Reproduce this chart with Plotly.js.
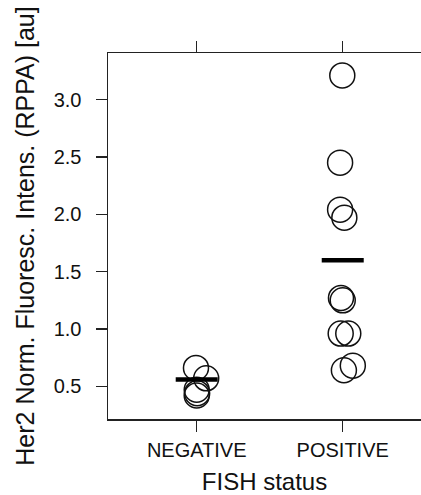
<!DOCTYPE html>
<html>
<head>
<meta charset="utf-8">
<script src="https://cdn.plot.ly/plotly-3.0.1.min.js"></script>
<style>html,body{margin:0;padding:0;background:#fff;}#chart{width:421px;height:495px;}</style>
</head>
<body>
<div id="chart"></div>
<script>
// Category labels
var categories = ['NEGATIVE', 'POSITIVE'];
// Individual sample values
var negativeValues = [0.66, 0.57, 0.47, 0.44, 0.42];
var negativeJitter = [-0.005, 0.065, 0.0, 0.003, 0.0];
var positiveValues = [3.21, 2.45, 2.04, 1.97, 1.27, 1.25, 0.96, 0.96, 0.64, 0.68];
var positiveJitter = [-0.003, -0.018, -0.018, 0.011, -0.012, 0.0, -0.014, 0.038, 0.008, 0.069];
// Group summary bars
var groupCentre = [0.56, 1.60];
// Axis ticks
var yTicks = [0.5, 1.0, 1.5, 2.0, 2.5, 3.0];

var catPos = categories.map(function (c, i) { return i; });

var negX = negativeJitter.map(function (j) { return catPos[0] + j; });
var posX = positiveJitter.map(function (j) { return catPos[1] + j; });

var pointMarker = {
  symbol: 'circle-open',
  size: 25,
  color: '#111',
  line: { width: 1.5, color: '#111' }
};

var traces = [
  { type: 'scatter', mode: 'markers', x: negX, y: negativeValues, marker: pointMarker, hoverinfo: 'y', showlegend: false },
  { type: 'scatter', mode: 'markers', x: posX, y: positiveValues, marker: pointMarker, hoverinfo: 'y', showlegend: false },
  { type: 'scatter', mode: 'markers', x: catPos, y: groupCentre,
    marker: { symbol: 'line-ew-open', size: 30, color: '#000', line: { width: 4.5, color: '#000' } },
    hoverinfo: 'y', showlegend: false }
];

var font = 'Liberation Sans, Arial, Helvetica, sans-serif';

var layout = {
  width: 421,
  height: 495,
  margin: { l: 108, r: 0, t: 53, b: 76 },
  paper_bgcolor: '#fff',
  plot_bgcolor: '#fff',
  font: { family: font, color: '#111' },
  xaxis: {
    range: [-0.6075, 1.536],
    tickvals: catPos,
    ticktext: categories,
    ticks: 'outside',
    ticklen: 11,
    tickwidth: 1.5,
    tickcolor: '#222',
    showline: true,
    linewidth: 1.5,
    linecolor: '#222',
    mirror: 'ticks',
    showgrid: false,
    zeroline: false,
    ticklabelstandoff: 1,
    tickfont: { size: 20, family: font, color: '#111' },
    title: { text: 'FISH status', font: { size: 24, family: font, color: '#111' }, standoff: 16 }
  },
  yaxis: {
    range: [0.215, 3.406],
    tickvals: yTicks,
    tickformat: '.1f',
    ticks: 'outside',
    ticklen: 11,
    tickwidth: 1.5,
    tickcolor: '#222',
    showline: true,
    linewidth: 1.5,
    linecolor: '#222',
    mirror: false,
    showgrid: false,
    zeroline: false,
    ticklabelstandoff: 10,
    tickfont: { size: 20, family: font, color: '#111' },
    title: { text: 'Her2 Norm. Fluoresc. Intens. (RPPA) [au]', font: { size: 25, family: font, color: '#111' }, standoff: 12 }
  }
};

Plotly.newPlot('chart', traces, layout, { displayModeBar: false, staticPlot: true });
</script>
</body>
</html>
